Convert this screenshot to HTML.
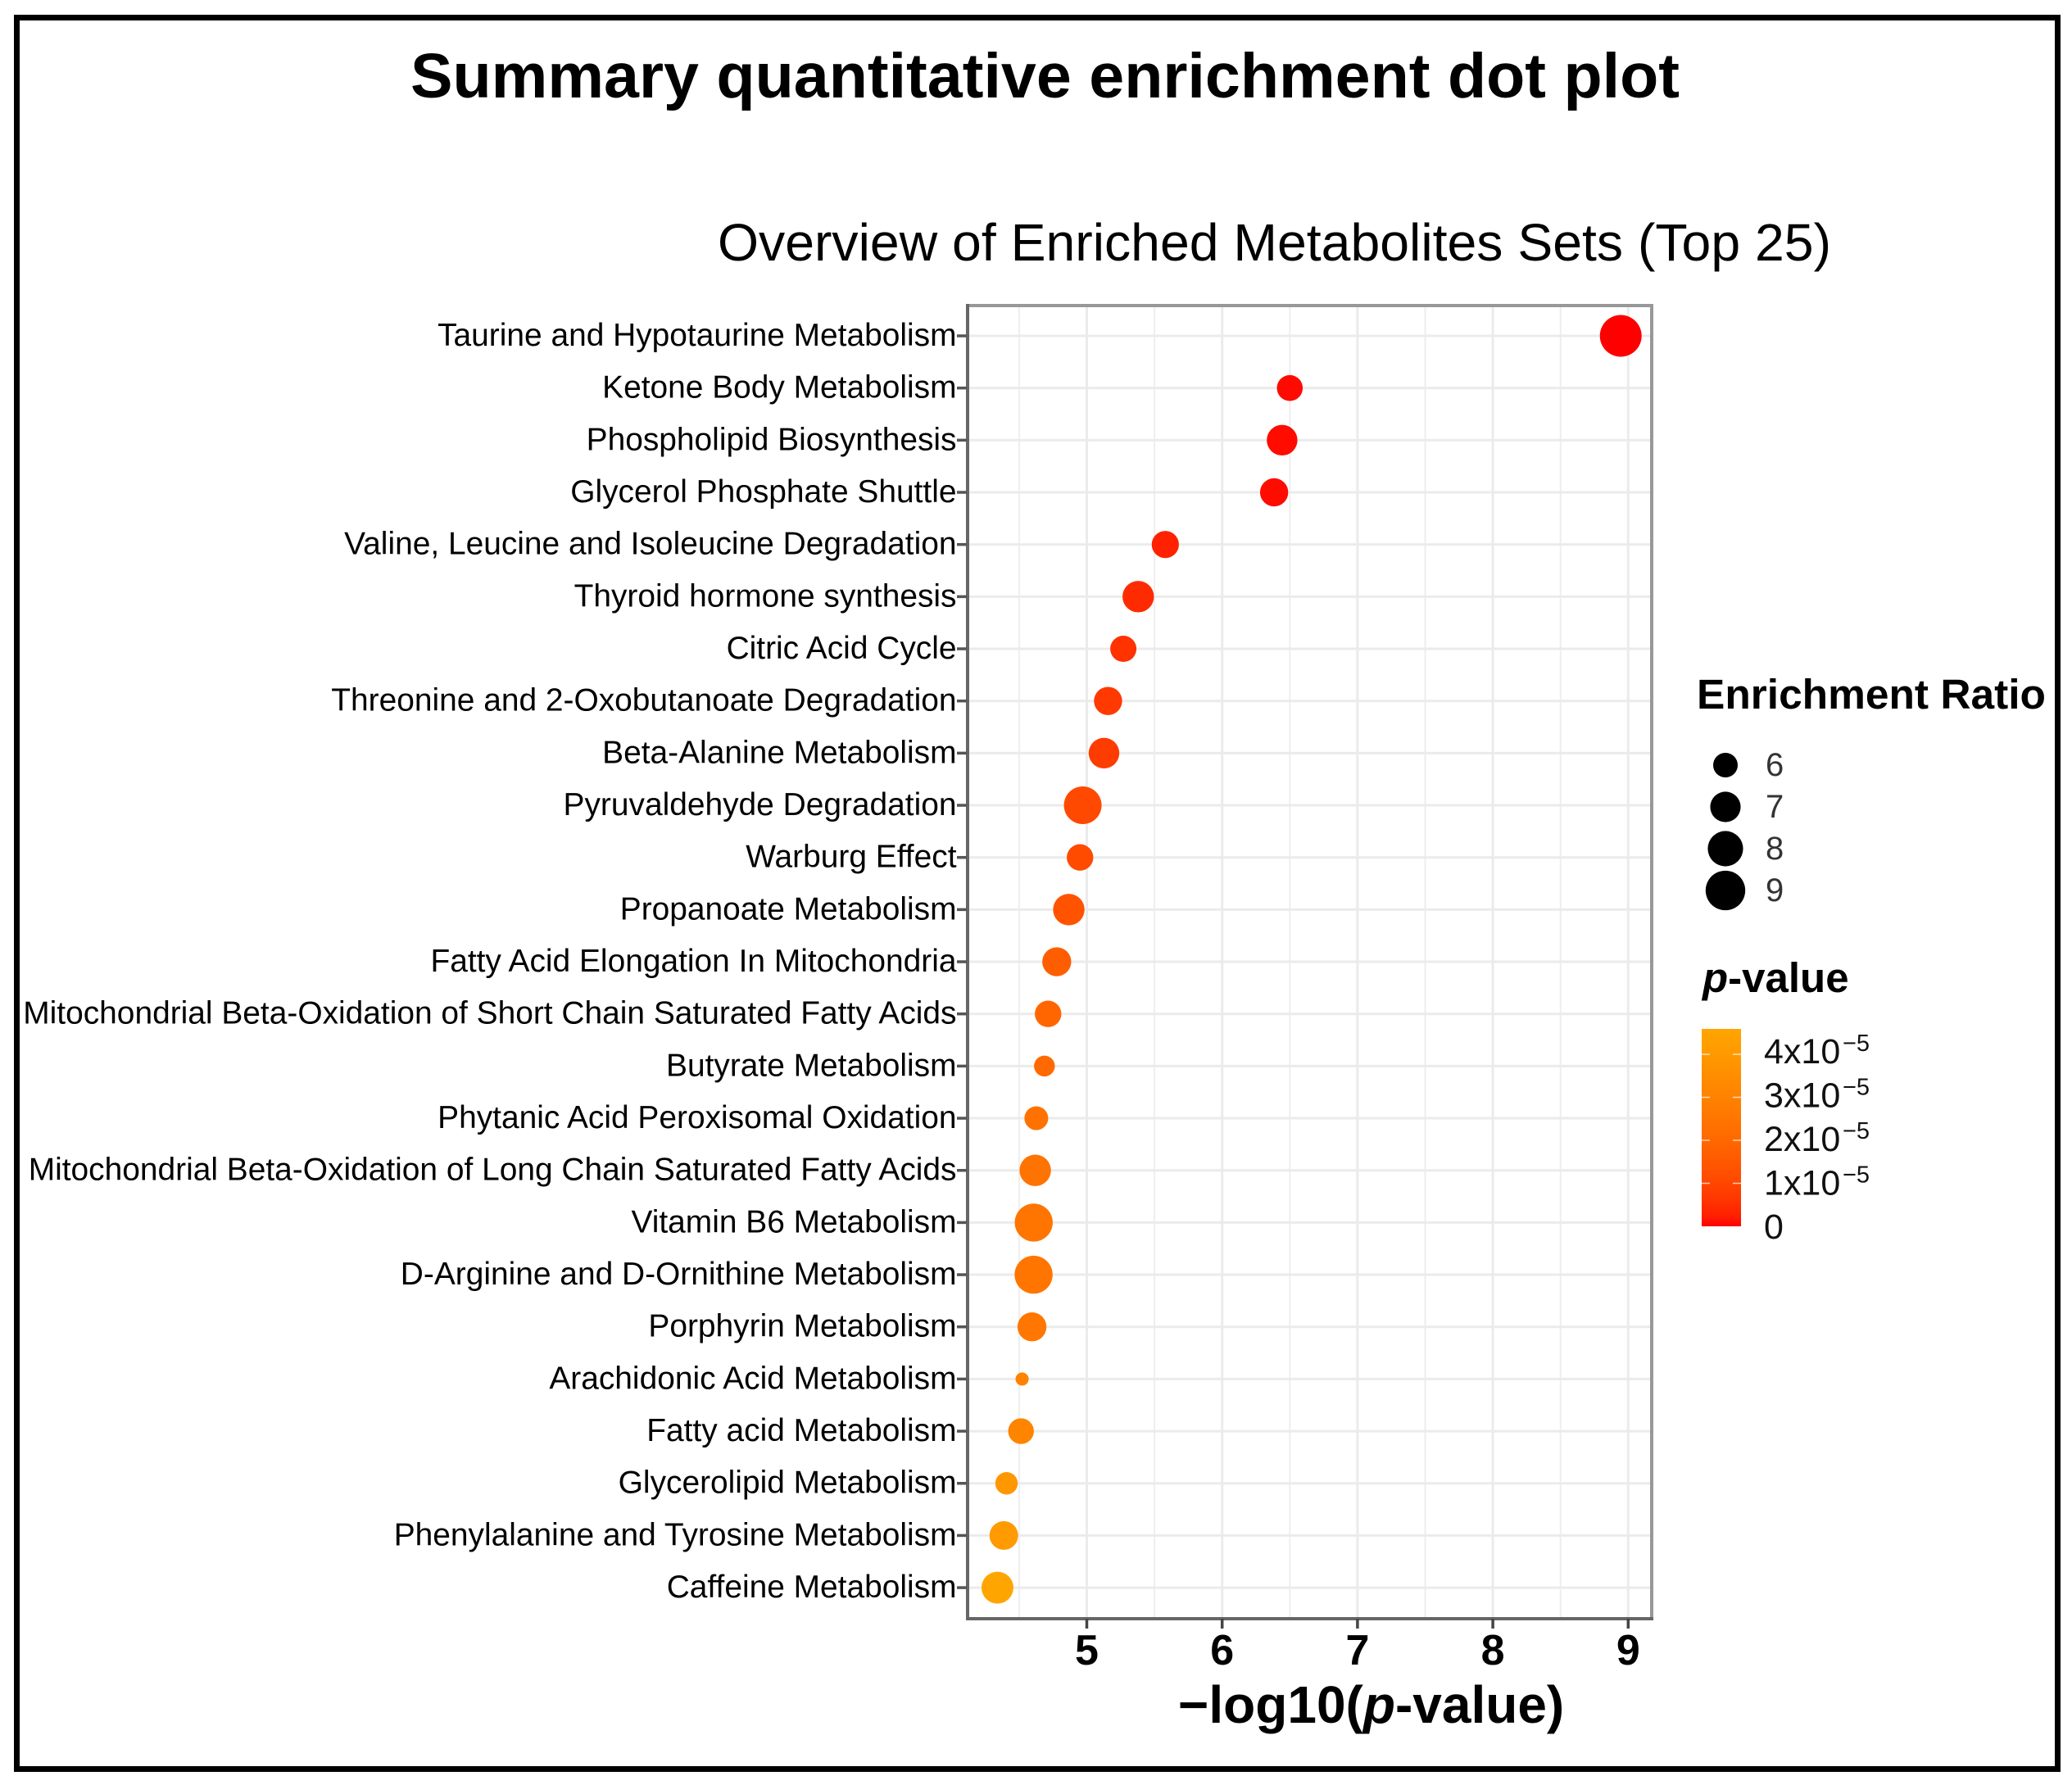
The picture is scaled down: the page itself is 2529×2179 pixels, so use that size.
<!DOCTYPE html>
<html lang="en">
<head>
<meta charset="utf-8">
<title>Summary quantitative enrichment dot plot</title>
<style>
  html, body { margin: 0; padding: 0; background: #fff; }
  svg { display: block; font-family: "Liberation Sans", Arial, sans-serif; }
</style>
</head>
<body>
<svg id="figure" xmlns="http://www.w3.org/2000/svg" width="2529" height="2179" viewBox="0 0 2529 2179">
  <rect x="0" y="0" width="2529" height="2179" fill="#ffffff"/>
  <rect x="20.5" y="21.5" width="2491" height="2138" fill="none" stroke="#000000" stroke-width="7"/>
  <text x="501" y="119" font-size="77" font-weight="700" textLength="1549" lengthAdjust="spacingAndGlyphs" fill="#000">Summary quantitative enrichment dot plot</text>
  <text x="876" y="318" font-size="64" textLength="1359" lengthAdjust="spacingAndGlyphs" fill="#000">Overview of Enriched Metabolites Sets (Top 25)</text>
  <rect x="1181" y="373" width="835" height="1603" fill="#ffffff"/>
  <g id="grid"></g>
  <g id="dots"></g>
  <rect x="1181" y="373" width="835" height="1603" fill="none" stroke="#989898" stroke-width="4"/>
  <line x1="1181" y1="371" x2="1181" y2="1978" stroke="#666666" stroke-width="4"/>
  <line x1="1179" y1="1976" x2="2018" y2="1976" stroke="#666666" stroke-width="4"/>
  <g id="yaxis"></g>
  <g id="xaxis"></g>
  <text x="1438" y="2103" font-size="64" font-weight="700" fill="#000">−log10(<tspan font-style="italic">p</tspan>-value)</text>
  <text x="2071" y="865" font-size="51" font-weight="700" textLength="426" lengthAdjust="spacingAndGlyphs" fill="#000">Enrichment Ratio</text>
  <g id="sizeLegend"></g>
  <text x="2078" y="1211" font-size="51" font-weight="700" fill="#000"><tspan font-style="italic">p</tspan>-value</text>
  <defs>
    <linearGradient id="pGradient" x1="0" y1="1" x2="0" y2="0"></linearGradient>
  </defs>
  <rect x="2077" y="1256" width="48" height="241" fill="url(#pGradient)"/>
  <g id="colorLegend"></g>
</svg>
<script>
const categories = [
  "Taurine and Hypotaurine Metabolism",
  "Ketone Body Metabolism",
  "Phospholipid Biosynthesis",
  "Glycerol Phosphate Shuttle",
  "Valine, Leucine and Isoleucine Degradation",
  "Thyroid hormone synthesis",
  "Citric Acid Cycle",
  "Threonine and 2-Oxobutanoate Degradation",
  "Beta-Alanine Metabolism",
  "Pyruvaldehyde Degradation",
  "Warburg Effect",
  "Propanoate Metabolism",
  "Fatty Acid Elongation In Mitochondria",
  "Mitochondrial Beta-Oxidation of Short Chain Saturated Fatty Acids",
  "Butyrate Metabolism",
  "Phytanic Acid Peroxisomal Oxidation",
  "Mitochondrial Beta-Oxidation of Long Chain Saturated Fatty Acids",
  "Vitamin B6 Metabolism",
  "D-Arginine and D-Ornithine Metabolism",
  "Porphyrin Metabolism",
  "Arachidonic Acid Metabolism",
  "Fatty acid Metabolism",
  "Glycerolipid Metabolism",
  "Phenylalanine and Tyrosine Metabolism",
  "Caffeine Metabolism"
];
const negLogP = [8.945, 6.50, 6.443, 6.384, 5.58, 5.38, 5.27, 5.157, 5.127, 4.97, 4.95, 4.867, 4.778, 4.714, 4.687, 4.627, 4.619, 4.608, 4.607, 4.595, 4.522, 4.514, 4.407, 4.387, 4.34];
const enrichmentRatio = [9.54, 6.20, 7.04, 6.59, 6.42, 7.20, 6.26, 6.59, 7.04, 8.53, 6.31, 7.20, 6.73, 6.31, 5.47, 5.88, 7.20, 8.61, 8.61, 6.73, 4.66, 6.18, 5.69, 6.68, 7.29];
const xMajorTicks = [5, 6, 7, 8, 9];
const xMinorTicks = [4.5, 5.5, 6.5, 7.5, 8.5];
const sizeLegendValues = [6, 7, 8, 9];
const pLegendValues = [4, 3, 2, 1, 0];

const SVG_NS = "http://www.w3.org/2000/svg";
const xScale = v => 1326.5 + (v - 5) * 165.2;
const yScale = i => 410 + i * 63.67;
const rScale = er => Math.sqrt(Math.max(20, 225 + 120 * (er - 6)));
const P_MAX = 4.59e-5;
function colorOf(p) {
  const t = Math.min(1, Math.max(0, p / P_MAX));
  const g = Math.round(165 * Math.pow(t, 0.56));
  return "rgb(255," + g + ",0)";
}
function mk(tag, attrs, parent, text) {
  const el = document.createElementNS(SVG_NS, tag);
  for (const k in attrs) el.setAttribute(k, attrs[k]);
  if (text !== undefined) el.textContent = text;
  parent.appendChild(el);
  return el;
}

const grid = document.getElementById("grid");
xMinorTicks.forEach(v => {
  const el = mk("line", {x1: xScale(v), x2: xScale(v), y1: 373, y2: 1976, stroke: "#eeeeee", "stroke-width": 2}, grid);
  
  
});
xMajorTicks.forEach(v => {
  const el = mk("line", {x1: xScale(v), x2: xScale(v), y1: 373, y2: 1976, stroke: "#ebebeb", "stroke-width": 3}, grid);
  
  
});
categories.forEach((c, i) => {
  const el = mk("line", {x1: 1181, x2: 2016, y1: yScale(i), y2: yScale(i), stroke: "#ebebeb", "stroke-width": 3}, grid);
  
  
});

const yaxis = document.getElementById("yaxis");
categories.forEach((c, i) => {
  const tick = mk("line", {x1: 1168, x2: 1180, y1: yScale(i), y2: yScale(i), stroke: "#555555", "stroke-width": 3.5}, yaxis);
  
  
  const label = mk("text", {x: 1167.5, y: yScale(i) + 12, "text-anchor": "end", "font-size": 38.9, fill: "#000"}, yaxis, c);
  
  
});

const xaxis = document.getElementById("xaxis");
xMajorTicks.forEach(v => {
  const tick = mk("line", {x1: xScale(v), x2: xScale(v), y1: 1976, y2: 1988, stroke: "#444444", "stroke-width": 3.5}, xaxis);
  
  
  const label = mk("text", {x: xScale(v), y: 2032, "text-anchor": "middle", "font-size": 52, "font-weight": 700, fill: "#000"}, xaxis, String(v));
  
  
});

const dots = document.getElementById("dots");
categories.forEach((c, i) => {
  const p = Math.pow(10, -negLogP[i]);
  const dot = mk("circle", {cx: xScale(negLogP[i]), cy: yScale(i), r: rScale(enrichmentRatio[i]), fill: colorOf(p)}, dots);
  
  
});

const sizeLegend = document.getElementById("sizeLegend");
sizeLegendValues.forEach(v => {
  const cy = 934 + (v - 6) * 51;
  const key = mk("circle", {cx: 2106, cy: cy, r: rScale(v), fill: "#000"}, sizeLegend);
  
  
  const label = mk("text", {x: 2155, y: cy + 13, "font-size": 40, fill: "#333333"}, sizeLegend, String(v));
  
  
});

const gradient = document.getElementById("pGradient");
for (let s = 0; s <= 20; s++) {
  const t = s / 20;
  mk("stop", {offset: t, "stop-color": colorOf(t * P_MAX)}, gradient);
}

const colorLegend = document.getElementById("colorLegend");
pLegendValues.forEach(t => {
  const tickY = 1497 - t * 52.5;
  const baseY = 1512 - t * 53.5;
  if (t > 0) {
    const left = mk("line", {x1: 2077, x2: 2087, y1: tickY, y2: tickY, stroke: "#ffffff", "stroke-opacity": 0.7, "stroke-width": 1.5}, colorLegend);
    
    
    const right = mk("line", {x1: 2115, x2: 2125, y1: tickY, y2: tickY, stroke: "#ffffff", "stroke-opacity": 0.7, "stroke-width": 1.5}, colorLegend);
    
    
    const label = mk("text", {x: 2153, y: baseY, "font-size": 43, fill: "#111"}, colorLegend, t + "x10");
    
    
    const sup = mk("text", {x: 2249, y: baseY - 15, "font-size": 29, fill: "#111"}, colorLegend, "−5");
    
    
  } else {
    const label = mk("text", {x: 2153, y: baseY, "font-size": 43, fill: "#111"}, colorLegend, "0");
    
    
  }
});
</script>
</body>
</html>
